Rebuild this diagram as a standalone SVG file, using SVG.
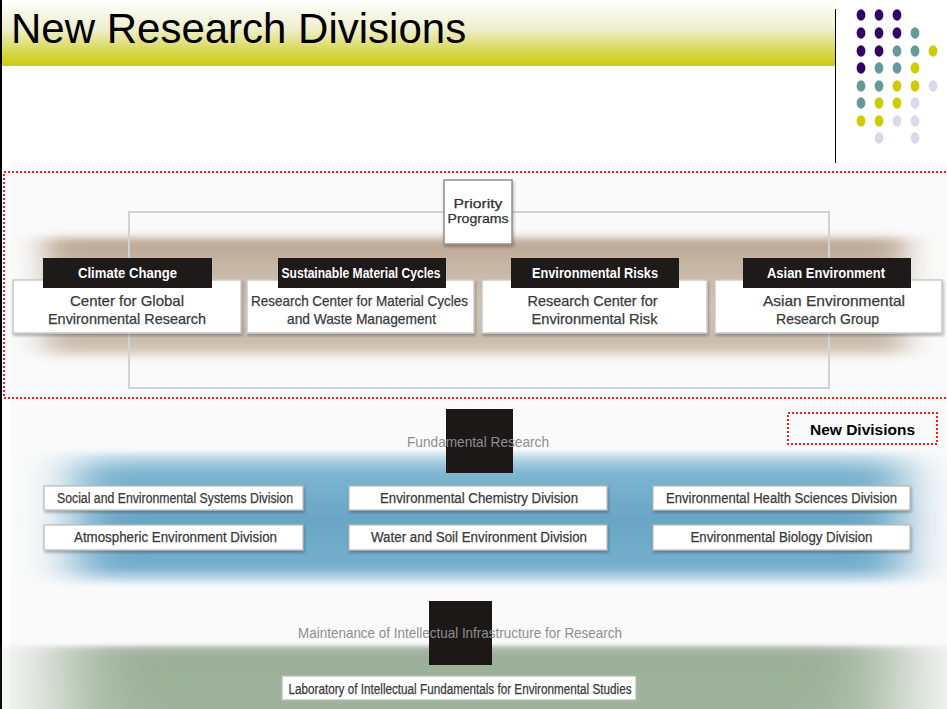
<svg xmlns="http://www.w3.org/2000/svg" width="947" height="709" viewBox="0 0 947 709">
  <defs>
    <style>
      .title { font-family: "Liberation Sans", Arial, sans-serif; font-size: 42px; fill: #000; }
      .cond { font-family: "Liberation Sans Narrow", "Liberation Sans", Arial, sans-serif; }
      .tab { fill: #1e1a1a; }
      .tabtxt { font-size: 14px; font-weight: bold; fill: #ffffff; text-anchor: middle; }
      .box { fill: #ffffff; stroke: #c9c9c9; stroke-width: 1.5; }
      .boxtxt { font-size: 14.5px; fill: #3a3a3a; text-anchor: middle; stroke: #3a3a3a; stroke-width: 0.25; }
      .divbox { fill: #ffffff; stroke: #b9b9b9; stroke-width: 1.2; }
      .divtxt { font-size: 14px; fill: #3a3a3a; text-anchor: middle; stroke: #3a3a3a; stroke-width: 0.25; }
      .prio { font-size: 12.5px; fill: #333333; text-anchor: middle; stroke: #333333; stroke-width: 0.25; }
      .faint { font-size: 15px; fill: #8e8e8e; text-anchor: middle; }
      .redline { fill: none; stroke: #ff1a1a; stroke-width: 2; stroke-dasharray: 2 2; }
      .frame { fill: none; stroke: #d2d2d2; stroke-width: 2; }
      .p { fill: #330066; } .t { fill: #669999; } .y { fill: #cccc00; } .l { fill: #d9d9ee; }
    </style>
    <linearGradient id="banner" x1="0" y1="0" x2="0" y2="1">
      <stop offset="0" stop-color="#ffffff"/>
      <stop offset="0.45" stop-color="#eeeecc"/>
      <stop offset="0.75" stop-color="#d9d95a"/>
      <stop offset="1" stop-color="#cccc11"/>
    </linearGradient>
    <linearGradient id="brown" x1="0" y1="0" x2="0" y2="1">
      <stop offset="0" stop-color="#b9a590"/>
      <stop offset="0.2" stop-color="#c6b5a3"/>
      <stop offset="0.6" stop-color="#d3c6b8"/>
      <stop offset="0.9" stop-color="#c9baab"/>
      <stop offset="1" stop-color="#e4dcd3"/>
    </linearGradient>
    <linearGradient id="blue" x1="0" y1="0" x2="0" y2="1">
      <stop offset="0" stop-color="#cfe4ee"/>
      <stop offset="0.15" stop-color="#7db5d0"/>
      <stop offset="0.5" stop-color="#6aa6c6"/>
      <stop offset="0.88" stop-color="#74aecc"/>
      <stop offset="1" stop-color="#d6e9f2"/>
    </linearGradient>
    <linearGradient id="green" x1="0" y1="0" x2="0" y2="1">
      <stop offset="0" stop-color="#b4bab2"/>
      <stop offset="0.12" stop-color="#9bb098"/>
      <stop offset="1" stop-color="#a1b59d"/>
    </linearGradient>
    <filter id="softBrown" x="-10%" y="-30%" width="120%" height="160%">
      <feGaussianBlur stdDeviation="16 4"/>
    </filter>
    <filter id="softBlue" x="-10%" y="-30%" width="120%" height="160%">
      <feGaussianBlur stdDeviation="26 3"/>
    </filter>
    <filter id="softGreen" x="-10%" y="-30%" width="120%" height="160%">
      <feGaussianBlur stdDeviation="45 2"/>
    </filter>
    <filter id="shadow" x="-5%" y="-20%" width="110%" height="150%">
      <feGaussianBlur in="SourceAlpha" stdDeviation="1.5"/>
      <feOffset dx="1" dy="2" result="b"/>
      <feComponentTransfer><feFuncA type="linear" slope="0.3"/></feComponentTransfer>
      <feMerge><feMergeNode/><feMergeNode in="SourceGraphic"/></feMerge>
    </filter>
  </defs>

  <!-- page -->
  <rect x="0" y="0" width="947" height="709" fill="#ffffff"/>
  <rect x="10" y="163" width="937" height="546" fill="#fafafa"/>

  <!-- title banner -->
  <g id="title">
    <rect x="0" y="0" width="835" height="66" fill="url(#banner)"/>
    <text class="title" x="11" y="43">New Research Divisions</text>
  </g>
  <rect x="0" y="0" width="2" height="709" fill="#000"/>
  <line x1="835.5" y1="9" x2="835.5" y2="163" stroke="#000" stroke-width="1"/>

  <!-- decorative dot grid -->
  <g id="dots">
    <ellipse class="p" cx="861" cy="15" rx="4.4" ry="5.7"/><ellipse class="p" cx="879" cy="15" rx="4.4" ry="5.7"/><ellipse class="p" cx="897" cy="15" rx="4.4" ry="5.7"/>
    <ellipse class="p" cx="861" cy="33" rx="4.4" ry="5.7"/><ellipse class="p" cx="879" cy="33" rx="4.4" ry="5.7"/><ellipse class="p" cx="897" cy="33" rx="4.4" ry="5.7"/><ellipse class="t" cx="915" cy="33" rx="4.4" ry="5.7"/>
    <ellipse class="p" cx="861" cy="51" rx="4.4" ry="5.7"/><ellipse class="p" cx="879" cy="51" rx="4.4" ry="5.7"/><ellipse class="t" cx="897" cy="51" rx="4.4" ry="5.7"/><ellipse class="t" cx="915" cy="51" rx="4.4" ry="5.7"/><ellipse class="y" cx="933" cy="51" rx="4.4" ry="5.7"/>
    <ellipse class="p" cx="861" cy="68" rx="4.4" ry="5.7"/><ellipse class="t" cx="879" cy="68" rx="4.4" ry="5.7"/><ellipse class="t" cx="897" cy="68" rx="4.4" ry="5.7"/><ellipse class="y" cx="915" cy="68" rx="4.4" ry="5.7"/>
    <ellipse class="t" cx="861" cy="86" rx="4.4" ry="5.7"/><ellipse class="t" cx="879" cy="86" rx="4.4" ry="5.7"/><ellipse class="y" cx="897" cy="86" rx="4.4" ry="5.7"/><ellipse class="y" cx="915" cy="86" rx="4.4" ry="5.7"/><ellipse class="l" cx="933" cy="86" rx="4.4" ry="5.7"/>
    <ellipse class="t" cx="861" cy="103" rx="4.4" ry="5.7"/><ellipse class="y" cx="879" cy="103" rx="4.4" ry="5.7"/><ellipse class="y" cx="897" cy="103" rx="4.4" ry="5.7"/><ellipse class="l" cx="915" cy="103" rx="4.4" ry="5.7"/>
    <ellipse class="y" cx="861" cy="121" rx="4.4" ry="5.7"/><ellipse class="y" cx="879" cy="121" rx="4.4" ry="5.7"/><ellipse class="l" cx="897" cy="121" rx="4.4" ry="5.7"/><ellipse class="l" cx="915" cy="121" rx="4.4" ry="5.7"/>
    <ellipse class="l" cx="879" cy="138" rx="4.4" ry="5.7"/><ellipse class="l" cx="915" cy="138" rx="4.4" ry="5.7"/>
  </g>

  <!-- soft coloured bands -->
  <rect x="45" y="238" width="860" height="118" fill="url(#brown)" filter="url(#softBrown)"/>
  <rect x="75" y="453" width="830" height="130" fill="url(#blue)" filter="url(#softBlue)"/>
  <rect x="60" y="646" width="840" height="90" fill="url(#green)" filter="url(#softGreen)"/>

  <!-- connectors: outer frame linking the priority programs -->
  <g id="connectors">
    <rect class="frame" x="129" y="212" width="700" height="176"/>
  </g>

  <g id="priority-programs">
    <rect x="444" y="180" width="68" height="64" fill="#ffffff" stroke="#8f8f8f" stroke-width="1.5" filter="url(#shadow)"/>
    <text class="cond prio" x="478" y="208" textLength="49" lengthAdjust="spacingAndGlyphs">Priority</text>
    <text class="cond prio" x="478" y="223" textLength="61" lengthAdjust="spacingAndGlyphs">Programs</text>
  </g>

  <g id="climate-change">
    <rect class="box" x="13" y="280" width="228" height="53" filter="url(#shadow)"/>
    <rect class="tab" x="43" y="258" width="169" height="30"/>
    <text class="cond tabtxt" x="127.5" y="278" textLength="99" lengthAdjust="spacingAndGlyphs">Climate Change</text>
    <text class="cond boxtxt" x="127" y="306" textLength="114" lengthAdjust="spacingAndGlyphs">Center for Global</text>
    <text class="cond boxtxt" x="127" y="324" textLength="158" lengthAdjust="spacingAndGlyphs">Environmental Research</text>
  </g>

  <g id="material-cycles">
    <rect class="box" x="247" y="280" width="227" height="53" filter="url(#shadow)"/>
    <rect class="tab" x="278" y="258" width="168" height="30"/>
    <text class="cond tabtxt" x="361" y="278" textLength="159" lengthAdjust="spacingAndGlyphs">Sustainable Material Cycles</text>
    <text class="cond boxtxt" x="359.5" y="306" textLength="217" lengthAdjust="spacingAndGlyphs">Research Center for Material Cycles</text>
    <text class="cond boxtxt" x="361.5" y="324" textLength="149" lengthAdjust="spacingAndGlyphs">and Waste Management</text>
  </g>

  <g id="environmental-risks">
    <rect class="box" x="482" y="280" width="225" height="53" filter="url(#shadow)"/>
    <rect class="tab" x="511" y="258" width="168" height="30"/>
    <text class="cond tabtxt" x="595" y="278" textLength="126" lengthAdjust="spacingAndGlyphs">Environmental Risks</text>
    <text class="cond boxtxt" x="592.5" y="306" textLength="130" lengthAdjust="spacingAndGlyphs">Research Center for</text>
    <text class="cond boxtxt" x="594.5" y="324" textLength="126" lengthAdjust="spacingAndGlyphs">Environmental Risk</text>
  </g>

  <g id="asian-environment">
    <rect class="box" x="715" y="280" width="227" height="53" filter="url(#shadow)"/>
    <rect class="tab" x="743" y="258" width="168" height="30"/>
    <text class="cond tabtxt" x="826" y="278" textLength="118" lengthAdjust="spacingAndGlyphs">Asian Environment</text>
    <text class="cond boxtxt" x="834" y="306" textLength="142" lengthAdjust="spacingAndGlyphs">Asian Environmental</text>
    <text class="cond boxtxt" x="827.5" y="324" textLength="103" lengthAdjust="spacingAndGlyphs">Research Group</text>
  </g>

  <!-- highlight of the newly created units -->
  <rect class="redline" x="4" y="172" width="946" height="226"/>

  <g id="fundamental-research">
    <rect x="446" y="409" width="67" height="64" fill="#1c1818"/>
    <text class="cond faint" x="478" y="447" textLength="142" lengthAdjust="spacingAndGlyphs">Fundamental Research</text>
  </g>

  <g id="new-divisions">
    <rect class="redline" x="788" y="413" width="149" height="31" fill="#ffffff"/>
    <text x="862.5" y="435" font-family="Liberation Sans, Arial, sans-serif" font-size="15.5" font-weight="bold" fill="#000" text-anchor="middle">New Divisions</text>
  </g>

  <g id="division-social">
    <rect class="divbox" x="44" y="486" width="259" height="24" filter="url(#shadow)"/>
    <text class="cond divtxt" x="175" y="503" textLength="236" lengthAdjust="spacingAndGlyphs">Social and Environmental Systems Division</text>
  </g>
  <g id="division-atmospheric">
    <rect class="divbox" x="44" y="525" width="259" height="25" filter="url(#shadow)"/>
    <text class="cond divtxt" x="175.5" y="542" textLength="203" lengthAdjust="spacingAndGlyphs">Atmospheric Environment Division</text>
  </g>
  <g id="division-chemistry">
    <rect class="divbox" x="349" y="486" width="258" height="24" filter="url(#shadow)"/>
    <text class="cond divtxt" x="479" y="503" textLength="198" lengthAdjust="spacingAndGlyphs">Environmental Chemistry Division</text>
  </g>
  <g id="division-water-soil">
    <rect class="divbox" x="349" y="525" width="258" height="25" filter="url(#shadow)"/>
    <text class="cond divtxt" x="479" y="542" textLength="216" lengthAdjust="spacingAndGlyphs">Water and Soil Environment Division</text>
  </g>
  <g id="division-health">
    <rect class="divbox" x="653" y="486" width="257" height="24" filter="url(#shadow)"/>
    <text class="cond divtxt" x="781.5" y="503" textLength="231" lengthAdjust="spacingAndGlyphs">Environmental Health Sciences Division</text>
  </g>
  <g id="division-biology">
    <rect class="divbox" x="653" y="525" width="257" height="25" filter="url(#shadow)"/>
    <text class="cond divtxt" x="781.5" y="542" textLength="182" lengthAdjust="spacingAndGlyphs">Environmental Biology Division</text>
  </g>

  <g id="intellectual-infrastructure">
    <rect x="429" y="601" width="63" height="64" fill="#1c1818"/>
    <text class="cond faint" x="460" y="638" textLength="324" lengthAdjust="spacingAndGlyphs" fill="#9a9a9a">Maintenance of Intellectual Infrastructure for Research</text>
  </g>

  <g id="lab-intellectual-fundamentals">
    <rect class="divbox" x="282" y="676" width="354" height="24"/>
    <text class="cond divtxt" x="460" y="694" textLength="343" lengthAdjust="spacingAndGlyphs">Laboratory of Intellectual Fundamentals for Environmental Studies</text>
  </g>
</svg>
